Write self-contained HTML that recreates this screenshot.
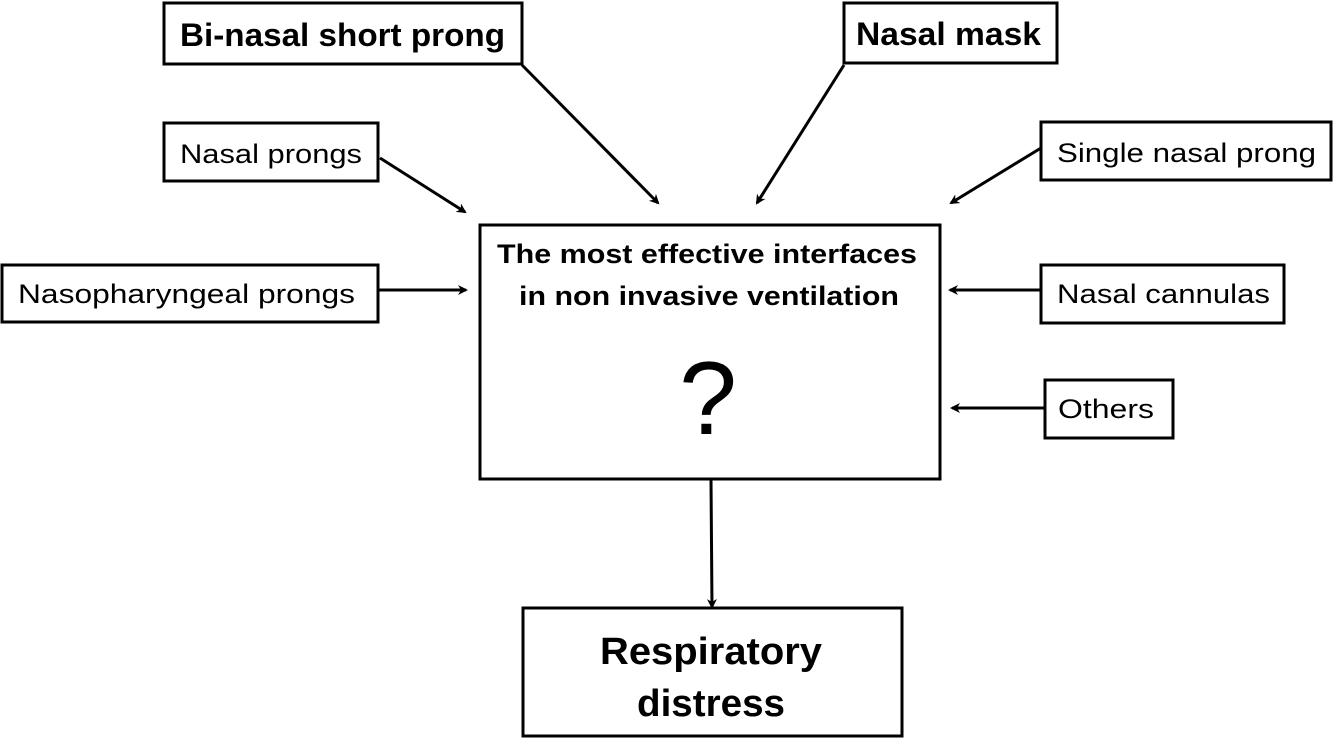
<!DOCTYPE html>
<html><head><meta charset="utf-8"><style>html,body{margin:0;padding:0;background:#fff}svg{display:block}</style></head>
<body>
<svg width="1333" height="738" viewBox="0 0 1333 738" xmlns="http://www.w3.org/2000/svg" font-family="'Liberation Sans', sans-serif">
<defs><marker id="a" markerWidth="10" markerHeight="10" refX="8" refY="5" orient="auto" markerUnits="userSpaceOnUse"><path d="M0,0 L10,5 L0,10 L3,5 z" fill="#000"/></marker></defs>
<g fill="#fff" stroke="#000" stroke-width="3">
<rect x="164" y="3" width="358" height="61"/>
<rect x="844" y="3" width="213" height="60"/>
<rect x="164" y="123" width="214" height="58"/>
<rect x="1041" y="122" width="290" height="58"/>
<rect x="2" y="265" width="376" height="57"/>
<rect x="1041" y="265" width="243" height="58"/>
<rect x="1045" y="380" width="128" height="58"/>
<rect x="480" y="225" width="460" height="254"/>
<rect x="523" y="608" width="379" height="128"/>
</g>
<g stroke="#000" stroke-width="3" marker-end="url(#a)">
<line x1="522" y1="65" x2="658" y2="203"/>
<line x1="844" y1="65" x2="757" y2="203"/>
<line x1="380" y1="158" x2="465" y2="212"/>
<line x1="1041" y1="148" x2="951" y2="203"/>
<line x1="378" y1="290" x2="466" y2="290"/>
<line x1="1041" y1="290" x2="950" y2="290"/>
<line x1="1045" y1="408" x2="952" y2="408"/>
<line x1="711" y1="480" x2="712" y2="607"/>
</g>
<g fill="#000">
<text x="180" y="46" font-size="32" font-weight="bold" textLength="325" lengthAdjust="spacingAndGlyphs">Bi-nasal short prong</text>
<text x="856" y="45" font-size="32" font-weight="bold" textLength="185" lengthAdjust="spacingAndGlyphs">Nasal mask</text>
<text x="180" y="163" font-size="27" textLength="182" lengthAdjust="spacingAndGlyphs">Nasal prongs</text>
<text x="1057" y="162" font-size="27" textLength="259" lengthAdjust="spacingAndGlyphs">Single nasal prong</text>
<text x="18" y="303" font-size="27" textLength="337" lengthAdjust="spacingAndGlyphs">Nasopharyngeal prongs</text>
<text x="1057" y="303" font-size="27" textLength="213" lengthAdjust="spacingAndGlyphs">Nasal cannulas</text>
<text x="1058" y="418" font-size="27" textLength="96" lengthAdjust="spacingAndGlyphs">Others</text>
<text x="497" y="263" font-size="27" font-weight="bold" textLength="420" lengthAdjust="spacingAndGlyphs">The most effective interfaces</text>
<text x="519" y="305" font-size="27" font-weight="bold" textLength="380" lengthAdjust="spacingAndGlyphs">in non invasive ventilation</text>
<text x="708" y="434" font-size="104" text-anchor="middle">?</text>
<text x="600" y="664" font-size="38" font-weight="bold" textLength="222" lengthAdjust="spacingAndGlyphs">Respiratory</text>
<text x="637" y="716" font-size="38" font-weight="bold" textLength="148" lengthAdjust="spacingAndGlyphs">distress</text>
</g>
</svg>
</body></html>
